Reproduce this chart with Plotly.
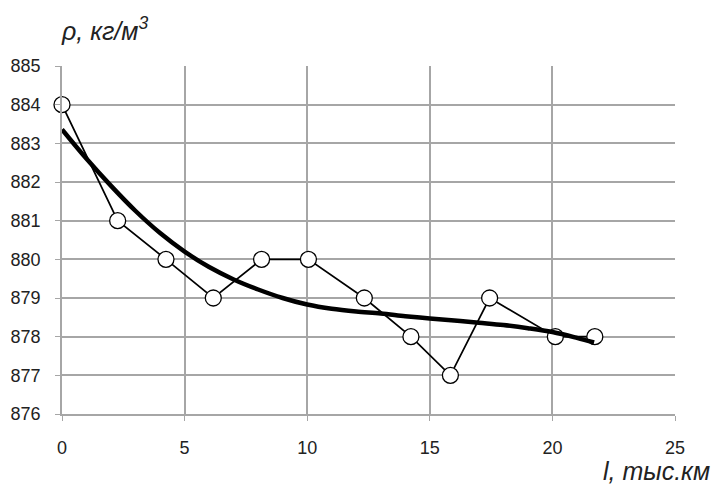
import plotly.graph_objects as go

# measured data
dist_km = [0, 2.27, 4.24, 6.17, 8.14, 10.05, 12.33, 14.23, 15.84, 17.44, 20.12, 21.73]
density = [884, 881, 880, 879, 880, 880, 879, 878, 877, 879, 878, 878]

# trend curve
trend_x = [0, 1, 2, 3, 4, 5, 6, 7, 8, 9, 10, 11, 12, 13, 14, 15, 16, 17, 18, 19, 20, 21, 21.7]
trend_y = [883.36, 882.6, 881.9, 881.25, 880.68, 880.2, 879.8, 879.48, 879.22, 879.0, 878.83,
           878.72, 878.65, 878.6, 878.53, 878.47, 878.42, 878.36, 878.3, 878.22, 878.12, 877.97, 877.85]

x_ticks = [0, 5, 10, 15, 20, 25]
y_ticks = [876, 877, 878, 879, 880, 881, 882, 883, 884, 885]

fig = go.Figure()
fig.add_trace(go.Scatter(
    x=dist_km, y=density, mode="lines+markers",
    line=dict(color="black", width=1.7),
    marker=dict(symbol="circle", size=16, color="white", line=dict(color="black", width=1.3)),
    showlegend=False, cliponaxis=False))
fig.add_trace(go.Scatter(
    x=trend_x, y=trend_y, mode="lines",
    line=dict(color="black", width=4.5, shape="spline", smoothing=1),
    showlegend=False))

fig.update_layout(
    width=714, height=484,
    margin=dict(l=62, r=39, t=66, b=70),
    paper_bgcolor="white", plot_bgcolor="white",
    font=dict(family="Liberation Sans", size=18, color="#222222"),
)
fig.update_xaxes(range=[0, 25], tickvals=x_ticks, showgrid=True, gridcolor="#a6a6a6", gridwidth=1.5,
                 showline=True, linecolor="#a6a6a6", linewidth=1.5, ticks="outside", ticklen=5,
                 tickcolor="#a6a6a6", zeroline=False, mirror=False, ticklabelstandoff=12,
                 automargin=False)
fig.update_yaxes(range=[876, 885], tickvals=y_ticks, showgrid=True, gridcolor="#a6a6a6", gridwidth=1.5,
                 showline=True, linecolor="#a6a6a6", linewidth=1.5, ticks="outside", ticklen=5,
                 tickcolor="#a6a6a6", zeroline=False, ticklabelstandoff=11, automargin=False)
fig.add_annotation(text="<i>ρ, кг/м<sup>3</sup></i>", xref="paper", yref="paper", x=-0.005, y=1.055,
                   xanchor="left", yanchor="bottom", showarrow=False,
                   font=dict(family="Liberation Sans", size=25, color="#222222"))
fig.add_annotation(text="<i>l, тыс.км</i>", xref="paper", yref="paper", x=1.06, y=-0.117,
                   xanchor="right", yanchor="top", showarrow=False,
                   font=dict(family="Liberation Sans", size=25, color="#222222"))

fig.write_html("out.html", config={"displayModeBar": False},
               post_script="document.body.style.margin='0';")
